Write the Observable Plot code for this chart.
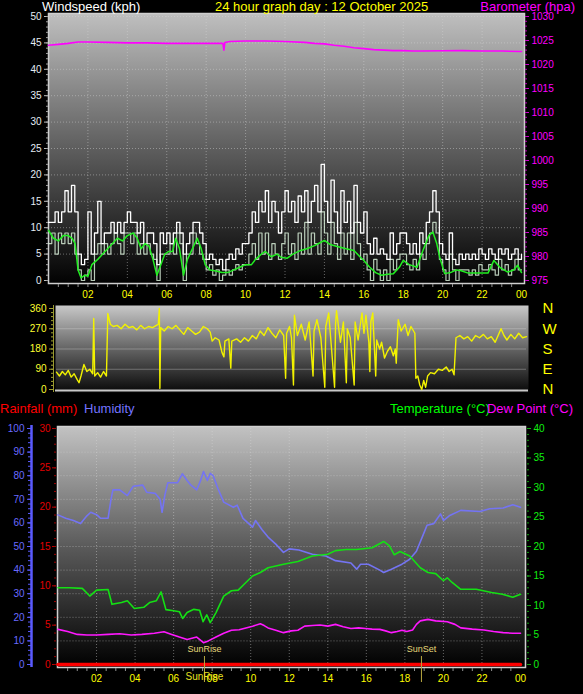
<!DOCTYPE html>
<html><head><meta charset="utf-8">
<script src="https://cdn.jsdelivr.net/npm/d3@7"></script>
<script src="https://cdn.jsdelivr.net/npm/@observablehq/plot@0.6"></script>
<style>
html,body{margin:0;padding:0;background:#000;}
#wrap{position:relative;width:583px;height:694px;background:#000;overflow:hidden;font-family:"Liberation Sans",Arial,sans-serif;}
.lbl{position:absolute;font-size:13px;line-height:13px;white-space:nowrap;}
</style></head><body>
<div id="wrap"></div>
<script>
// ---------------- DATA ----------------
const hourTicks = [2,4,6,8,10,12,14,16,18,20,22,24];
const compassTicks = [0,90,180,270,360];
const compassLabels = ["N","E","S","W","N"];

// wind gust (kph), 10-minute samples from 00:00 to 24:00
const gustKph = [
 11,11,13,11,13,17,
 13,18,13,5,3,4,
 13,5,9,15,7,9,
 9,11,9,11,9,11,
 13,11,11,9,11,7,
 9,9,7,3,9,7,
 9,7,9,11,9,5,
 7,9,11,11,9,7,
 4,5,4,3,4,2,
 4,5,4,6,5,7,
 7,9,13,11,15,13,
 17,11,15,13,9,13,
 17,13,15,11,16,13,
 17,11,15,18,13,22,
 15,11,19,13,9,17,
 11,15,9,18,11,9,
 13,7,5,8,5,6,
 5,4,9,5,7,9,
 9,7,5,7,5,9,
 7,11,13,17,13,7,
 5,4,9,4,3,5,
 4,5,4,5,4,6,
 5,4,6,5,4,6,
 5,6,4,5,6,4,
 5];
// wind speed (kph), 10-minute samples
const speedKph = [
 7,9,5,9,7,9,
 7,9,5,2,0,1,
 2,0,5,7,5,7,
 5,7,9,7,5,9,
 9,7,9,5,7,5,
 7,5,4,0,5,5,
 5,7,5,9,7,0,
 5,5,9,7,5,4,
 2,3,1,2,0,1,
 2,1,2,3,2,3,
 3,5,7,4,9,5,
 9,4,7,5,4,7,
 9,5,7,4,9,5,
 11,5,9,7,5,13,
 9,5,11,7,4,9,
 5,9,4,11,7,4,
 5,2,0,4,2,0,
 2,0,4,2,4,5,
 5,3,2,4,2,5,
 4,7,9,11,9,4,
 2,0,5,2,0,2,
 2,2,1,2,1,3,
 2,2,3,2,1,4,
 2,3,1,2,4,2,
 2];
// average wind speed (kph): [hour, value]
const avgWind = [[0,9.5],[0.25,8],[0.5,7.5],[0.75,8.5],[1,8.5],[1.2,8],[1.35,7],[1.5,2],[1.65,0.5],[1.85,1],[2.0,0.8],[2.2,3],[2.5,4],[2.75,5],[3,6],[3.25,7],[3.5,8],[3.75,7.5],[4,8.5],[4.3,9],[4.5,8],[4.7,6],[4.9,7],[5.1,6.5],[5.3,4],[5.5,1],[5.7,3],[5.9,5],[6.1,5.5],[6.3,5.5],[6.45,8],[6.65,6],[6.85,1],[7.05,4],[7.3,6],[7.55,8],[7.75,6],[7.95,3],[8.2,2],[8.5,1.8],[8.8,1.5],[9.1,1.5],[9.4,2],[9.7,2.5],[10,3],[10.3,3],[10.5,4],[10.8,5],[11,5.5],[11.3,4.5],[11.6,5],[11.8,4.4],[12.1,4.2],[12.4,5],[12.8,5.7],[13.1,6],[13.5,6.6],[13.8,7.2],[14,7.6],[14.3,6.8],[14.6,6.5],[14.8,6.3],[15.1,6],[15.5,5.7],[15.8,4.5],[16,3.8],[16.3,2.5],[16.6,1.5],[16.9,1],[17.2,1.2],[17.5,1.3],[17.8,2.5],[18,3.8],[18.3,3],[18.7,2.5],[19,5.7],[19.3,8.5],[19.5,9.2],[19.7,7],[19.85,4.4],[20.1,1.3],[20.4,1.5],[20.7,2],[20.9,1.9],[21.3,1.4],[21.8,1.4],[22.3,1.4],[22.6,3.8],[22.9,2.5],[23.3,1.6],[23.6,2],[23.8,2.9],[24,1.5]];
// barometer (hPa)
const barometer = [[0,1024.0],[0.5,1024.2],[1,1024.4],[1.5,1024.7],[2,1024.7],[3,1024.6],[4,1024.5],[5,1024.5],[6,1024.4],[7,1024.4],[8,1024.4],[8.85,1024.4],[8.9,1023.0],[8.95,1024.6],[9.2,1024.8],[10,1024.9],[11,1024.9],[12,1024.8],[13,1024.6],[13.5,1024.4],[14,1024.3],[14.5,1024.0],[15,1023.8],[15.5,1023.5],[16,1023.3],[16.5,1023.1],[17,1023.0],[17.5,1022.9],[18,1022.9],[18.5,1022.8],[19,1022.8],[20,1022.85],[21,1022.9],[22,1022.8],[23,1022.8],[24,1022.7]];
// wind direction (degrees)
const windDir = [[0,77],[0.15,60],[0.3,80],[0.45,65],[0.6,85],[0.75,55],[0.9,70],[1.05,45],[1.15,30],[1.25,60],[1.4,111],[1.55,80],[1.7,90],[1.85,70],[1.9,316],[1.95,60],[2.1,75],[2.25,55],[2.4,80],[2.55,60],[2.62,338],[2.75,290],[2.9,280],[3.1,285],[3.3,270],[3.5,290],[3.7,275],[3.9,280],[4.1,265],[4.3,285],[4.5,270],[4.7,280],[4.9,275],[5.1,285],[5.2,290],[5.25,360],[5.28,5],[5.32,275],[5.5,260],[5.7,280],[5.9,270],[6.1,285],[6.3,265],[6.5,245],[6.7,275],[6.9,260],[7.1,245],[7.3,255],[7.5,280],[7.7,270],[7.85,255],[7.95,215],[8.1,230],[8.3,220],[8.45,165],[8.55,145],[8.6,215],[8.8,225],[8.9,95],[8.95,215],[9.2,225],[9.4,210],[9.6,230],[9.8,215],[10,240],[10.2,225],[10.4,260],[10.6,240],[10.8,275],[11,250],[11.2,230],[11.4,265],[11.6,240],[11.7,50],[11.75,250],[11.9,280],[12,230],[12.1,20],[12.15,330],[12.3,240],[12.5,290],[12.7,220],[12.9,300],[13.1,60],[13.15,260],[13.3,310],[13.5,230],[13.7,10],[13.75,280],[13.9,340],[14.0,230],[14.2,10],[14.25,290],[14.3,350],[14.5,210],[14.65,300],[14.8,30],[14.85,270],[15.0,230],[15.2,20],[15.25,300],[15.4,220],[15.6,340],[15.7,250],[15.8,330],[15.95,210],[16,80],[16.05,300],[16.15,340],[16.3,60],[16.35,220],[16.5,180],[16.6,210],[16.75,140],[16.9,170],[17.05,190],[17.2,150],[17.3,180],[17.35,117],[17.45,310],[17.6,260],[17.8,290],[17.95,240],[18.1,280],[18.3,250],[18.35,50],[18.45,60],[18.55,20],[18.65,0],[18.75,40],[18.85,10],[18.95,60],[19.1,75],[19.3,70],[19.5,90],[19.7,85],[19.9,100],[20.05,80],[20.2,90],[20.3,65],[20.4,230],[20.6,240],[20.8,225],[21,235],[21.2,215],[21.4,240],[21.6,230],[21.8,245],[22,225],[22.2,235],[22.4,210],[22.6,250],[22.7,270],[22.85,240],[23.0,220],[23.2,245],[23.4,225],[23.6,250],[23.8,230],[24,235]];
// humidity (%)
const humidity = [[0,63.4],[0.4,62],[0.8,61],[1.17,59.7],[1.5,63],[1.7,64.5],[2.0,63.5],[2.2,62],[2.6,62],[2.75,70],[2.85,74],[3.2,74],[3.6,71.6],[3.9,75.5],[4.4,76],[4.6,73],[5.05,72.5],[5.3,70],[5.4,64.5],[5.55,72],[5.7,77],[6.2,77],[6.45,80.8],[6.7,78],[6.9,76],[7.2,74],[7.4,78],[7.55,81.8],[7.75,78],[7.9,81],[8.05,80],[8.3,74.6],[8.6,68.8],[9.1,66.6],[9.3,67.5],[9.6,61.9],[10.1,58.2],[10.25,61],[10.6,57],[10.9,54],[11.3,51],[11.7,47.5],[12,49],[12.5,48.5],[13.2,46.7],[13.9,46],[14.4,44],[15.2,43],[15.5,40.4],[15.7,42.5],[16.1,42.5],[16.7,40],[16.9,39],[17.3,40.4],[17.85,42.5],[18.25,44.6],[18.6,48],[19,56],[19.15,59],[19.5,59.7],[19.85,63.8],[20,61],[20.3,63],[20.9,65.3],[21.9,64.8],[22.4,66],[23.1,66.3],[23.6,67.7],[24,66.6]];
// temperature (°C)
const temperature = [[0,13.0],[0.6,13.0],[1.26,12.9],[1.65,11.6],[2.0,12.6],[2.6,12.7],[2.8,10.2],[3.3,10.5],[3.6,10.8],[3.96,9.5],[4.45,9.7],[4.75,10.5],[5.1,10.8],[5.35,12.3],[5.6,9.3],[6.0,9.1],[6.3,8.95],[6.47,7.8],[6.7,8.8],[7.05,9.35],[7.35,9.2],[7.53,7.25],[7.72,8.4],[7.9,7.1],[8.2,8.8],[8.6,11.6],[9.0,12.5],[9.35,12.6],[9.75,13.9],[10.1,15.0],[10.5,15.6],[10.9,16.4],[11.7,17.0],[12.45,17.45],[13.2,18.4],[14.0,18.7],[14.4,19.3],[14.95,19.5],[15.5,19.5],[16.3,19.8],[16.9,20.85],[17.2,20.1],[17.45,18.6],[17.75,19.15],[18.25,18.4],[18.8,16.4],[19.2,15.6],[19.6,15.4],[20.0,14.2],[20.2,14.7],[20.45,13.9],[20.9,12.75],[21.7,12.75],[22.5,12.2],[23.06,11.9],[23.6,11.4],[24,11.9]];
// dew point (°C)
const dewPoint = [[0,5.95],[0.5,5.6],[1.0,5.1],[1.5,5.0],[2.0,5.0],[2.6,5.1],[3.2,5.2],[3.8,5.0],[4.35,5.1],[5.0,5.3],[5.5,5.55],[5.9,5.1],[6.3,4.65],[6.7,4.25],[7.2,4.65],[7.55,3.7],[7.8,4.0],[8.2,4.65],[8.6,5.3],[9.0,5.8],[9.4,5.9],[9.75,6.2],[10.1,6.5],[10.5,6.9],[10.7,6.6],[10.9,6.2],[11.3,5.8],[11.7,5.4],[12.1,5.7],[12.45,5.8],[12.8,6.5],[13.2,6.6],[13.6,6.7],[14.0,6.5],[14.4,6.8],[14.8,6.4],[15.2,6.1],[15.6,6.2],[15.95,6.1],[16.3,6.0],[16.7,5.95],[17.0,5.7],[17.3,5.4],[17.6,5.6],[17.85,5.8],[18.1,5.6],[18.4,5.85],[18.6,6.8],[18.8,7.4],[19.2,7.65],[19.6,7.4],[20.2,7.25],[20.6,6.8],[20.9,6.2],[21.5,6.0],[22.1,5.85],[22.6,5.6],[23.1,5.4],[23.6,5.3],[24,5.3]];
// rainfall (mm)
const rainfall = [[0,0],[6,0],[12,0],[18,0],[24,0]];
// sun events (hour of day)
const sunEvents = [{h:7.6, name:"SunRise"},{h:18.86, name:"SunSet"}];

// ---------------- HELPERS ----------------
const FONT = '"Liberation Sans", Arial, sans-serif';
const st = {background:"transparent", color:"#ccc", fontFamily:FONT, fontSize:"10px", overflow:"visible"};
const fmtHour = h => String(h % 24).padStart(2,"0");
const fmtInt = v => String(v);
const pairs = a => a.map(([h,v]) => ({h, v}));
const sampled = a => a.map((v,i) => ({h: i/6, v}));
const dotted = {stroke:"#d8d8d8", strokeOpacity:0.45, strokeDasharray:"1,2"};
const wrap = document.getElementById("wrap");

function addGradient(svg, id, stops) {
  const g = d3.select(svg).insert("defs", ":first-child").append("linearGradient")
    .attr("id", id).attr("x1",0).attr("y1",0).attr("x2",0).attr("y2",1);
  for (const [o,c] of stops) g.append("stop").attr("offset", o).attr("stop-color", c);
}
function place(el, top) {
  el.style.position = "absolute"; el.style.left = "0px"; el.style.top = top + "px";
  wrap.appendChild(el);
}
function label(text, color, style) {
  const d = document.createElement("div");
  d.className = "lbl"; d.textContent = text; d.style.color = color;
  Object.assign(d.style, style);
  wrap.appendChild(d);
}

// ---------------- PANEL 1: wind speed + barometer ----------------
const dims1 = {width:583, height:310, marginLeft:48, marginRight:62, marginTop:16, marginBottom:30, style:st};
const p1 = Plot.plot({
  ...dims1,
  x:{domain:[0,24], axis:null}, y:{domain:[0,50], axis:null},
  marks:[
    Plot.frame({fill:"url(#bg1)", stroke:"#cfcfcf", strokeWidth:1.5, insetTop:-3, insetBottom:-3, insetRight:-3}),
    Plot.gridX(hourTicks.slice(0,-1), dotted),
    Plot.gridY(d3.range(5,51,5), dotted),
    Plot.line(sampled(speedKph), {x:"h", y:"v", curve:"step-after", stroke:"#d6ecd6", strokeWidth:1.2, strokeOpacity:0.85}),
    Plot.line(sampled(gustKph), {x:"h", y:"v", curve:"step-after", stroke:"#ffffff", strokeWidth:1.3}),
    Plot.line(pairs(avgWind), {x:"h", y:"v", stroke:"#22ee22", strokeWidth:1.5}),
    Plot.axisY(d3.range(0,51,5), {anchor:"left", tickSize:4, tickPadding:3, fill:"#e4ecf4", stroke:"#c0c0c0", fontSize:10, label:null, tickFormat:fmtInt}),
    Plot.axisY(d3.range(0,51,1), {anchor:"left", tickSize:2, fill:"none", stroke:"#a0a0a0", label:null}),
    Plot.axisX(hourTicks, {anchor:"bottom", tickSize:0, tickPadding:10, fill:"#ffff00", tickFormat:fmtHour, fontSize:10, label:null}),
    Plot.axisX(d3.range(0.5,24,0.5), {anchor:"bottom", tickSize:3, dy:4, fill:"none", stroke:"#909090", label:null})
  ]
});
addGradient(p1, "bg1", [[0,"#bfbfbf"],[0.5,"#5e5e5e"],[1,"#020202"]]);
place(p1, 0);

const p1b = Plot.plot({
  ...dims1,
  x:{domain:[0,24], axis:null}, y:{domain:[975,1030], axis:null},
  marks:[
    Plot.line(pairs(barometer), {x:"h", y:"v", stroke:"#ff00ff", strokeWidth:1.6}),
    Plot.axisY(d3.range(975,1031,5), {anchor:"right", dx:3, tickSize:4, tickPadding:3, fill:"#ff00ff", stroke:"#d000d0", fontSize:10, label:null, tickFormat:fmtInt}),
    Plot.axisY(d3.range(975,1031,1), {anchor:"right", dx:3, tickSize:2, fill:"none", stroke:"#c000c0", label:null})
  ]
});
place(p1b, 0);

// ---------------- PANEL 2: wind direction ----------------
const p2 = Plot.plot({
  width:583, height:110, marginLeft:56, marginRight:57, marginTop:13, marginBottom:16, style:st,
  x:{domain:[0,24], axis:null}, y:{domain:[0,360], axis:null},
  marks:[
    Plot.frame({fill:"url(#bg2)", insetTop:-3, insetBottom:-3, insetLeft:-1, insetRight:-2}),
    Plot.gridY([90,180,270], {stroke:"#dcdcdc", strokeOpacity:0.35}),
    Plot.ruleY([0], {stroke:"#c8c8c8", strokeWidth:2, dy:1, insetLeft:-1, insetRight:-2}),
    Plot.line(pairs(windDir), {x:"h", y:"v", stroke:"#f2f200", strokeWidth:1.4}),
    Plot.ruleX([0], {dx:-3, stroke:"#9a9a30", insetTop:-3, insetBottom:-3}),
    Plot.axisY(compassTicks, {anchor:"left", dx:-3, tickSize:4, tickPadding:3, fill:"#ffff30", stroke:"#a0a030", fontSize:10, label:null, tickFormat:fmtInt}),
    Plot.axisY(d3.range(0,361,18), {anchor:"left", dx:-3, tickSize:2, fill:"none", stroke:"#a0a030", label:null}),
    Plot.axisY(compassTicks, {anchor:"right", tickSize:0, tickPadding:16, fill:"#ffff00", fontSize:15, label:null,
      tickFormat: v => compassLabels[compassTicks.indexOf(v)]})
  ]
});
addGradient(p2, "bg2", [[0,"#c8c8c8"],[0.55,"#5a5a5a"],[1,"#080808"]]);
place(p2, 295);

// ---------------- PANEL 3: rain / humidity / temperature / dew point ----------------
const dims3 = {width:583, height:279, marginLeft:57.5, marginRight:63, marginTop:13, marginBottom:30, style:st};
const p3 = Plot.plot({
  ...dims3,
  x:{domain:[0,24], axis:null}, y:{domain:[0,30], axis:null},
  marks:[
    Plot.frame({fill:"url(#bg3)", stroke:"#d0d0d0", strokeWidth:1.5, insetTop:-2, insetBottom:-3, insetLeft:-0.5, insetRight:-5}),
    Plot.gridX(hourTicks.slice(0,-1), dotted),
    Plot.axisY(d3.range(0,31,5), {anchor:"left", dx:-1.5, tickSize:4, tickPadding:2, fill:"#e00000", stroke:"#c00000", fontSize:10, label:null, tickFormat:fmtInt}),
    Plot.axisY(d3.range(0,31,1), {anchor:"left", dx:-1.5, tickSize:2, fill:"none", stroke:"#a00000", label:null}),
    Plot.axisX(hourTicks, {anchor:"bottom", tickSize:0, tickPadding:10, fill:"#ffff00", tickFormat:fmtHour, fontSize:10, label:null}),
    Plot.axisX(d3.range(0.5,24,0.5), {anchor:"bottom", tickSize:3, dy:4, fill:"none", stroke:"#909090", label:null})
  ]
});
addGradient(p3, "bg3", [[0,"#c2c2c2"],[0.5,"#5a5a5a"],[1,"#000000"]]);
place(p3, 415);

const p3h = Plot.plot({
  ...dims3,
  x:{domain:[0,24], axis:null}, y:{domain:[0,100], axis:null},
  marks:[
    Plot.gridY(d3.range(10,100,10), dotted),
    Plot.line(pairs(humidity), {x:"h", y:"v", stroke:"#7474f2", strokeWidth:1.6}),
    Plot.ruleX([0], {dx:-26.5, stroke:"#5a5aff", strokeWidth:2.5, insetTop:-3, insetBottom:-3}),
    Plot.axisY(d3.range(0,101,10), {anchor:"left", dx:-26.5, tickSize:4, tickPadding:3, fill:"#6a6aff", stroke:"#5a5aff", fontSize:10, label:null, tickFormat:fmtInt}),
    Plot.axisY(d3.range(0,101,2), {anchor:"left", dx:-26.5, tickSize:3, fill:"none", stroke:"#5a5aff", label:null})
  ]
});
place(p3h, 415);

const p3r = Plot.plot({
  ...dims3,
  x:{domain:[0,24], axis:null}, y:{domain:[0,30], axis:null},
  marks:[
    Plot.line(pairs(rainfall), {x:"h", y:"v", stroke:"#ff0000", strokeWidth:3.5})
  ]
});
place(p3r, 415);

const p3t = Plot.plot({
  ...dims3,
  x:{domain:[0,24], axis:null}, y:{domain:[0,40], axis:null},
  marks:[
    Plot.line(pairs(temperature), {x:"h", y:"v", stroke:"#14e014", strokeWidth:1.6}),
    Plot.line(pairs(dewPoint), {x:"h", y:"v", stroke:"#ff18ff", strokeWidth:1.6}),
    Plot.axisY(d3.range(0,41,5), {anchor:"right", dx:6, tickSize:4, tickPadding:3, fill:"#10ee10", stroke:"#10b010", fontSize:10, label:null, tickFormat:fmtInt}),
    Plot.axisY(d3.range(0,41,1), {anchor:"right", dx:6, tickSize:2, fill:"none", stroke:"#10a010", label:null}),
    Plot.ruleX(sunEvents, {x:"h", stroke:"#b8a840", strokeWidth:1, insetTop:228, insetBottom:-18}),
    Plot.text(sunEvents, {x:"h", text:"name", frameAnchor:"bottom", dy:-13, fill:"#e6d878", fontSize:9}),
    Plot.text(sunEvents.filter(d => d.name === "SunRise"), {x:"h", text:"name", frameAnchor:"bottom", dy:15, fill:"#e6e020", fontSize:10})
  ]
});
place(p3t, 415);

// ---------------- TITLES ----------------
label("Windspeed (kph)", "#ffffff", {left:"42px", top:"0px"});
label("24 hour graph day : 12 October 2025", "#ffff00", {left:"215px", top:"0px"});
label("Barometer (hpa)", "#ff00ff", {right:"8px", top:"0px"});
label("Rainfall (mm)", "#ff0000", {left:"0px", top:"402px"});
label("Humidity", "#7474ff", {left:"84px", top:"402px"});
label("Temperature (°C)", "#00ff00", {left:"390px", top:"402px"});
label("Dew Point (°C)", "#ff00ff", {right:"10px", top:"402px"});
</script>
</body></html>
